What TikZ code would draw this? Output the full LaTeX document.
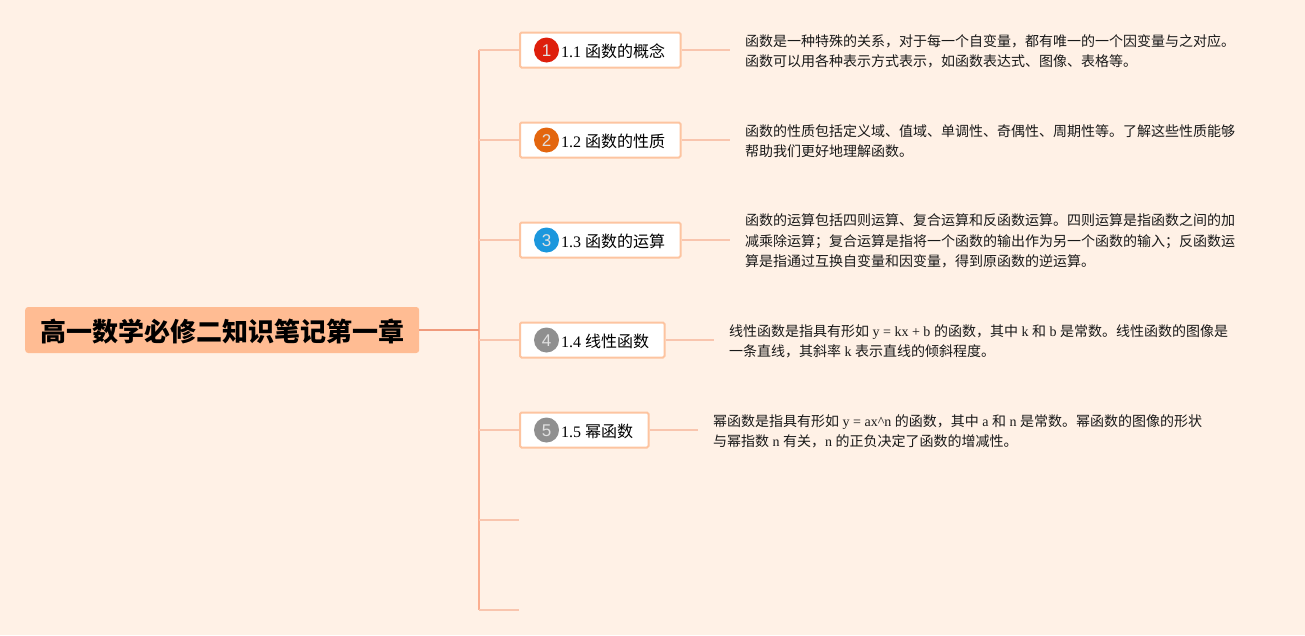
\documentclass[tikz,border=0pt]{standalone}
\usepackage{fontspec}
\setmainfont{Noto Sans CJK SC}
\newfontfamily\latf{Liberation Serif}
\newfontfamily\digf{Liberation Sans}
\newcommand\lat[1]{{\latf #1}}
\newcommand\dig[1]{\raisebox{-6.4pt}[0pt][0pt]{#1}}
\definecolor{bgc}{HTML}{FFF1E6}
\definecolor{rootc}{HTML}{FFBC93}
\definecolor{trunkc}{HTML}{FBAE90}
\definecolor{branchc}{HTML}{F9C5AE}
\definecolor{boxc}{HTML}{FDC4A0}
\definecolor{rootline}{HTML}{F09A7C}
\definecolor{ic1}{HTML}{DE1F0C}
\definecolor{ic2}{HTML}{E3660F}
\definecolor{ic3}{HTML}{1B97DD}
\definecolor{ic4}{HTML}{8F8F8F}
\tikzset{
  rootbox/.style={fill=rootc,rounded corners=3pt,inner sep=0pt,minimum width=394pt,minimum height=46pt,anchor=west,font=\fontsize{26}{30}\selectfont\bfseries},
  topicbox/.style={draw=boxc,line width=2pt,fill=white,rounded corners=1.5pt,inner sep=0pt,minimum height=35pt,anchor=west},
  icon/.style={circle,inner sep=0pt,minimum size=25pt,text=white!88!black,font=\digf\fontsize{17}{17}\selectfont},
  toplabel/.style={anchor=west,inner sep=0pt,font=\fontsize{16}{20}\selectfont},
  detail/.style={anchor=west,inner sep=0pt,align=left,text=black!90,font=\fontsize{14}{20.2}\selectfont},
  branch/.style={draw=branchc,line width=1.6pt},
  trunk/.style={draw=trunkc,line width=2pt}
}
\begin{document}
\begin{tikzpicture}[x=1pt,y=-1pt]
\useasboundingbox[fill=bgc] (0,0) rectangle (1305,635);
% free-end and junction coordinates
\coordinate (rj) at (479,329.7);
\foreach \n/\y in {1/50,2/140,3/240,4/340,5/430,6/520,7/610}{\coordinate (j\n) at (479,\y);}
\coordinate (b6) at (519,520);
\coordinate (b7) at (519,610);
\coordinate (e1) at (730,50);
\coordinate (e2) at (730,140);
\coordinate (e3) at (730,240);
\coordinate (e4) at (714,340);
\coordinate (e5) at (698,430);
% nodes
\node[rootbox] (root) at (25,330) {\raisebox{-11.4pt}[0pt][0pt]{高一数学必修二知识笔记第一章}};
\node[topicbox,minimum width=160.5pt] (t1) at (519,50) {};
\node[topicbox,minimum width=160.5pt] (t2) at (519,140) {};
\node[topicbox,minimum width=160.5pt] (t3) at (519,240) {};
\node[topicbox,minimum width=144.5pt] (t4) at (519,340) {};
\node[topicbox,minimum width=128.5pt] (t5) at (519,430) {};
\node[icon,fill=ic1] (i1) at (546.5,50) {\dig{1}};
\node[icon,fill=ic2] (i2) at (546.5,140) {\dig{2}};
\node[icon,fill=ic3] (i3) at (546.5,240) {\dig{3}};
\node[icon,fill=ic4] (i4) at (546.5,340) {\dig{4}};
\node[icon,fill=ic4] (i5) at (546.5,430) {\dig{5}};
\node[toplabel] (l1) at (561,51) {\lat{1.1 }函数的概念};
\node[toplabel] (l2) at (561,141) {\lat{1.2 }函数的性质};
\node[toplabel] (l3) at (561,241) {\lat{1.3 }函数的运算};
\node[toplabel] (l4) at (561,341) {\lat{1.4 }线性函数};
\node[toplabel] (l5) at (561,431) {\lat{1.5 }幂函数};
\node[detail] (d1) at (745,51) {函数是一种特殊的关系，对于每一个自变量，都有唯一的一个因变量与之对应。\\函数可以用各种表示方式表示，如函数表达式、图像、表格等。};
\node[detail] (d2) at (745,141) {函数的性质包括定义域、值域、单调性、奇偶性、周期性等。了解这些性质能够\\帮助我们更好地理解函数。};
\node[detail] (d3) at (745,241) {函数的运算包括四则运算、复合运算和反函数运算。四则运算是指函数之间的加\\减乘除运算；复合运算是指将一个函数的输出作为另一个函数的输入；反函数运\\算是指通过互换自变量和因变量，得到原函数的逆运算。};
\node[detail] (d4) at (729,341) {线性函数是指具有形如\lat{ y = kx + b }的函数，其中\lat{ k }和\lat{ b }是常数。线性函数的图像是\\一条直线，其斜率\lat{ k }表示直线的倾斜程度。};
\node[detail] (d5) at (713,431) {幂函数是指具有形如\lat{ y = ax\^{}n }的函数，其中\lat{ a }和\lat{ n }是常数。幂函数的图像的形状\\与幂指数\lat{ n }有关，\lat{n }的正负决定了函数的增减性。};
% connectors
\draw[trunk] (j1) -- (j7);
\draw[draw=rootline,line width=2pt] (root.east |- rj) -- (rj);
\draw[branch] (j1) -- (t1.west);
\draw[branch] (j2) -- (t2.west);
\draw[branch] (j3) -- (t3.west);
\draw[branch] (j4) -- (t4.west);
\draw[branch] (j5) -- (t5.west);
\draw[branch] (j6) -- (b6);
\draw[branch] (j7) -- (b7);
\draw[branch] (t1.east) -- (e1);
\draw[branch] (t2.east) -- (e2);
\draw[branch] (t3.east) -- (e3);
\draw[branch] (t4.east) -- (e4);
\draw[branch] (t5.east) -- (e5);
\end{tikzpicture}
\end{document}
